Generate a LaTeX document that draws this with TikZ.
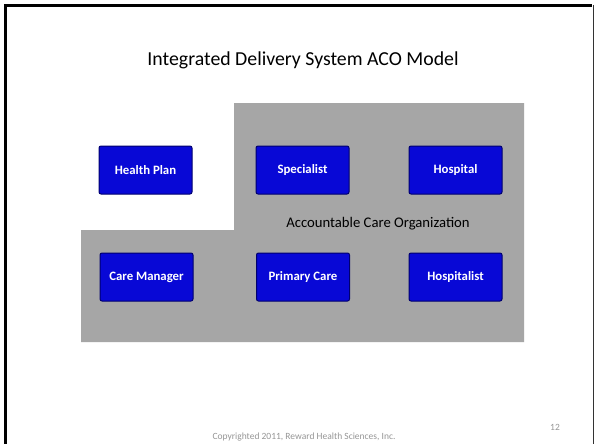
\documentclass[tikz,border=0pt]{standalone}
\usepackage{fontspec}
\setmainfont{Carlito}
\definecolor{acogray}{RGB}{166,166,166}
\definecolor{btnblue}{RGB}{8,8,214}
\definecolor{btnedge}{RGB}{0,0,110}
\definecolor{footgray}{RGB}{150,150,150}
\begin{document}
\begin{tikzpicture}[x=1pt,y=-1pt,
  btn/.style={draw=btnedge,line width=1pt,fill=btnblue,rounded corners=2pt,
    minimum width=93pt,minimum height=48pt,inner sep=0pt,
    text=white,font=\fontsize{12.8}{15}\selectfont\bfseries},
  foot/.style={text=footgray,font=\fontsize{9.5}{11}\selectfont}]
\useasboundingbox (0,0) rectangle (594,444);
\fill[white] (0,0) rectangle (594,444);
% slide frame
\draw[black,line width=2.5pt] (5.5,460) -- (5.5,5.5) -- (592,5.5);
\draw[black!80,line width=1pt] (593,5) -- (593,460);
% title
\node (title) at (303,60) {\fontsize{19.8}{24}\selectfont Integrated Delivery System ACO Model};
% ACO area
\fill[acogray] (234,103) -- (524,103) -- (524,342) -- (81,342) -- (81,230) -- (234,230) -- cycle;
\node (aco) at (378,224) {\fontsize{14.7}{17}\selectfont Accountable Care Organization};
% buttons
\node[btn] (hp) at (145.5,170) {Health Plan};
\node[btn] (sp) at (302.5,170) {Specialist};
\node[btn] (ho) at (455.5,170) {Hospital};
\node[btn] (cm) at (146.5,277) {Care Manager};
\node[btn] (pc) at (303,277) {Primary Care};
\node[btn] (hl) at (455.5,277) {Hospitalist};
% footer
\node[foot] (num) at (555,427) {12};
\node[foot] (copy) at (304,437.5) {Copyrighted 2011, Reward Health Sciences, Inc.};
\end{tikzpicture}
\end{document}
